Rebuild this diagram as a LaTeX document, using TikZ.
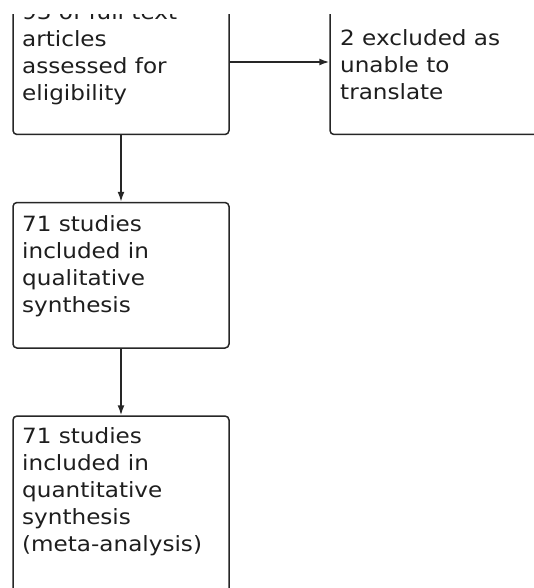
\documentclass[tikz,border=0pt]{standalone}
\usepackage{fontspec}
\setmainfont{DejaVu Sans}[FakeStretch=1.1]
\usetikzlibrary{arrows.meta}
\definecolor{linec}{HTML}{262626}
\definecolor{textc}{HTML}{1E1E1E}
\tikzset{
  box/.style={draw=linec, line width=1.5pt, rounded corners=4pt, inner sep=0pt},
  txt/.style={anchor=base west, inner sep=0pt, text=textc, font=\fontsize{21}{27}\selectfont},
  arr/.style={draw=linec, line width=1.5pt, -{Latex[length=10pt,width=7pt]}}
}
\newcommand{\boxlines}[1]{\begin{tabular}[t]{@{}l@{}}#1\end{tabular}}
\begin{document}
\begin{tikzpicture}[x=1pt,y=-1pt]
\useasboundingbox (0,0) rectangle (534,588);
\begin{scope}
\clip (0,15) rectangle (534,588);
% boxes
\node[box, minimum width=216pt, minimum height=154.5pt] (b1) at (121,57.25) {};
\node[box, minimum width=230pt, minimum height=154.5pt] (b4) at (445,57.25) {};
\node[box, minimum width=216pt, minimum height=145.5pt] (b2) at (121,275.25) {};
\node[box, minimum width=216pt, minimum height=204pt] (b3) at (121,518) {};
% texts
\node[txt] (t1) at (22,19.5) {\boxlines{93 of full text\\articles\\assessed for\\eligibility}};
\node[txt] (t4) at (340,46) {\boxlines{2 excluded as\\unable to\\translate}};
\node[txt] (t2) at (22,231.5) {\boxlines{71 studies\\included in\\qualitative\\synthesis}};
\node[txt] (t3) at (22,443.5) {\boxlines{71 studies\\included in\\quantitative\\synthesis\\(meta-analysis)}};
% connectors
\coordinate (h) at (0,62);
\draw[arr] (b1.east |- h) -- (b4.west |- h);
\draw[arr] (b1.south) -- (b2.north);
\draw[arr] (b2.south) -- (b3.north);
\end{scope}
\end{tikzpicture}
\end{document}
